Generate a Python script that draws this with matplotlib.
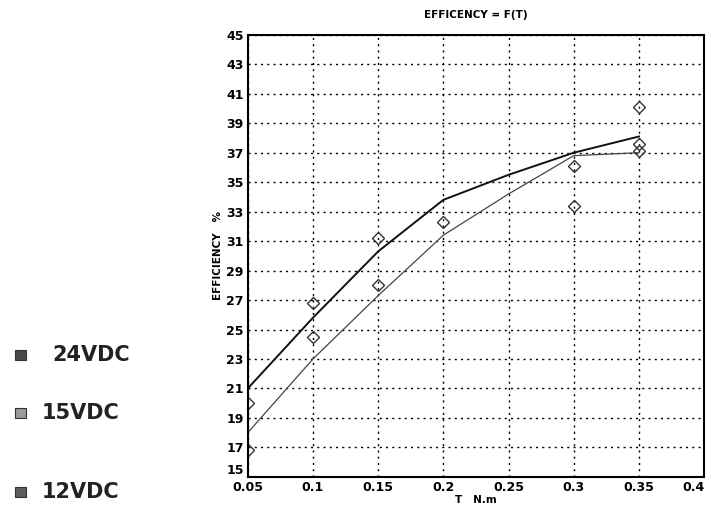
import matplotlib.pyplot as plt
from matplotlib.patches import Rectangle

# torque values (N.m)
T = [0.05, 0.1, 0.15, 0.2, 0.25, 0.3, 0.35]

# fitted curves
upper_fit = [21.0, 25.8, 30.3, 33.8, 35.5, 37.0, 38.1]
lower_fit = [18.0, 23.0, 27.3, 31.4, 34.2, 36.8, 37.0]

# measured points
pts_a_T = [0.05, 0.1, 0.15, 0.2, 0.3, 0.35]
pts_a = [20.0, 26.8, 31.2, 32.3, 36.1, 40.1]
pts_b_T = [0.05, 0.1, 0.15, 0.3, 0.35, 0.35]
pts_b = [16.8, 24.5, 28.0, 33.4, 37.6, 37.1]

legend_labels = ['24VDC', '15VDC', '12VDC']
legend_colors = ['#4a4a4a', '#9a9a9a', '#5e5e5e']

xticks = [0.05, 0.1, 0.15, 0.2, 0.25, 0.3, 0.35, 0.4]
xticklabels = ['0.05', '0.1', '0.15', '0.2', '0.25', '0.3', '0.35', '0.4']
yticks = list(range(15, 46, 2))

fig = plt.figure(figsize=(7.12, 5.2), dpi=100)
ax = fig.add_axes([0.348, 0.083, 0.641, 0.85])

ax.plot(T, upper_fit, color='#111111', linewidth=1.4)
ax.plot(T, lower_fit, color='#444444', linewidth=0.9)
ax.plot(pts_a_T, pts_a, linestyle='none', marker='D', markersize=6,
        markerfacecolor='none', markeredgecolor='#333333', markeredgewidth=1.0)
ax.plot(pts_b_T, pts_b, linestyle='none', marker='D', markersize=6,
        markerfacecolor='none', markeredgecolor='#333333', markeredgewidth=1.0)

ax.set_xlim(0.05, 0.4)
ax.set_ylim(15, 45)
ax.set_xticks(xticks)
ax.set_xticklabels(xticklabels)
ax.set_yticks(yticks)
ax.tick_params(direction='in', length=0, labelsize=9, pad=3)
for lbl in ax.get_xticklabels() + ax.get_yticklabels():
    lbl.set_fontweight('bold')
ax.get_yticklabels()[0].set_va('bottom')
ax.get_xticklabels()[0].set_va('top')
ax.get_xticklabels()[-1].set_ha('right')
ax.grid(True, color='black', linestyle=(0, (1.5, 3)), linewidth=1.0)
for sp in ax.spines.values():
    sp.set_linewidth(1.5)

ax.set_title('EFFICENCY = F(T)', fontsize=7.5, fontweight='bold', pad=12)
ax.set_xlabel('T   N.m', fontsize=7.5, fontweight='bold', labelpad=1)
ax.set_ylabel('EFFICIENCY   %', fontsize=7.5, fontweight='bold', labelpad=2)

# legend at left
leg_y = [355, 413, 492]
leg_x = [52, 42, 42]
for lab, col, yp, xp in zip(legend_labels, legend_colors, leg_y, leg_x):
    yf = 1 - yp / 520
    fig.patches.append(Rectangle((15 / 712, yf - 5 / 520), 11 / 712, 10 / 520,
                                 transform=fig.transFigure, facecolor=col,
                                 edgecolor='#333333', linewidth=0.8))
    fig.text(xp / 712, yf, lab, fontsize=15, fontweight='bold',
             va='center', ha='left', color='#222222')

fig.savefig('out.png', dpi=100)
